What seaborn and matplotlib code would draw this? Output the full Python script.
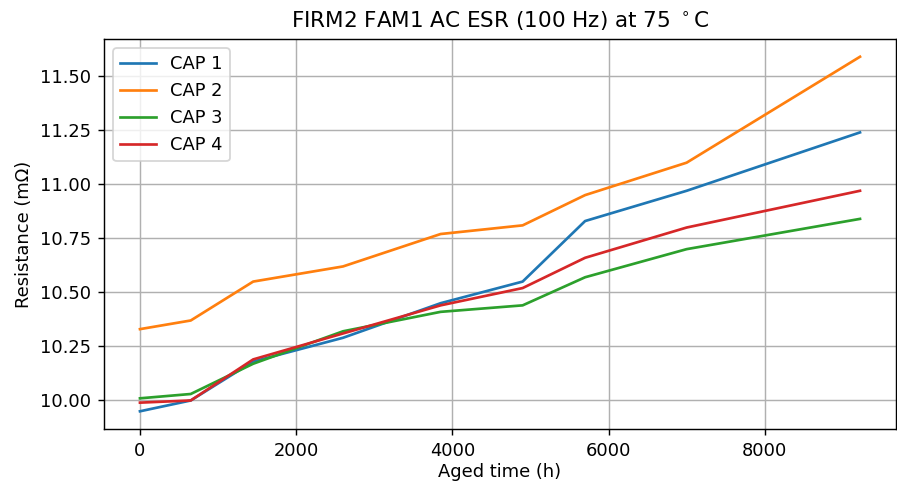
import matplotlib
matplotlib.use("Agg")
import matplotlib.pyplot as plt
import seaborn as sns
import pandas as pd

hours = [0, 650, 1450, 2600, 3850, 4900, 5700, 7000, 9220]
cap1 = [9.95, 10.00, 10.18, 10.29, 10.45, 10.55, 10.83, 10.97, 11.24]
cap2 = [10.33, 10.37, 10.55, 10.62, 10.77, 10.81, 10.95, 11.10, 11.59]
cap3 = [10.01, 10.03, 10.17, 10.32, 10.41, 10.44, 10.57, 10.70, 10.84]
cap4 = [9.99, 10.00, 10.19, 10.31, 10.44, 10.52, 10.66, 10.80, 10.97]
labels = ["CAP 1", "CAP 2", "CAP 3", "CAP 4"]

rows = []
for lab, vals in zip(labels, [cap1, cap2, cap3, cap4]):
    for h, v in zip(hours, vals):
        rows.append({"h": h, "r": v, "cap": lab})
df = pd.DataFrame(rows)

DPI = 129
fig = plt.figure(figsize=(897 / DPI, 484 / DPI), dpi=DPI)
ax = fig.add_axes([0.1159, 0.1136, 0.883, 0.8058])
sns.lineplot(data=df, x="h", y="r", hue="cap",
             palette=["#1f77b4", "#ff7f0e", "#2ca02c", "#d62728"],
             ax=ax, linewidth=1.5)
ax.grid(True, color="#b0b0b0", linewidth=0.8)
ax.set_yticks([10.0, 10.25, 10.5, 10.75, 11.0, 11.25, 11.5])
ax.set_yticklabels(["10.00", "10.25", "10.50", "10.75", "11.00", "11.25", "11.50"])
ax.set_xlabel("Aged time (h)", labelpad=2)
ax.set_ylabel("Resistance (m\u03a9)")
ax.set_title("FIRM2 FAM1 AC ESR (100 Hz) at 75 $^\\circ$C")
ax.legend(loc="upper left", title=None)
fig.savefig("out.png", dpi=DPI)
